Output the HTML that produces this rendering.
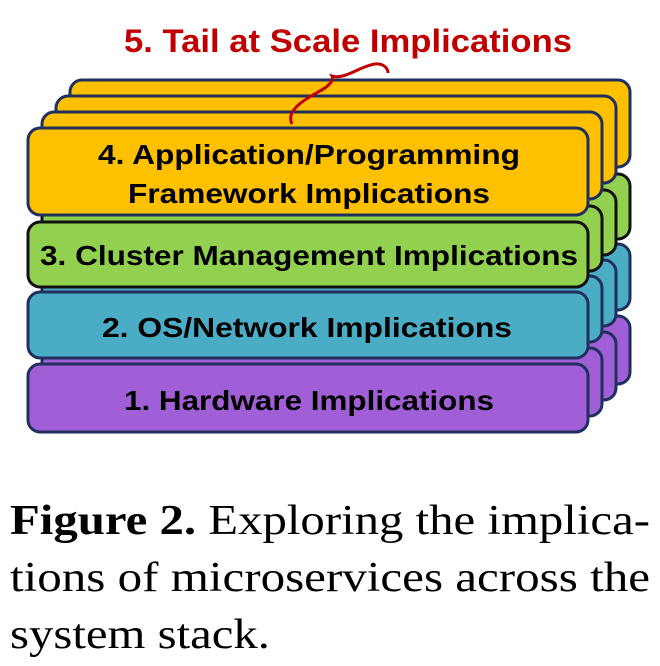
<!DOCTYPE html>
<html><head><meta charset="utf-8"><style>
html,body{margin:0;padding:0;background:#fff;width:660px;height:666px;overflow:hidden}
svg{display:block}
</style></head><body>
<svg width="660" height="666" viewBox="0 0 660 666" xmlns="http://www.w3.org/2000/svg">
<g stroke-width="3">
<!-- layer 3 -->
<g transform="translate(42,-48)">
<rect x="28" y="364" width="560" height="68" rx="12" fill="#A05FD6" stroke="#1F2F5E"/>
<rect x="28" y="292" width="560" height="66" rx="12" fill="#4BACC6" stroke="#1F2F5E"/>
<rect x="28" y="222" width="560" height="65" rx="12" fill="#92D050" stroke="#111"/>
<rect x="28" y="128" width="560" height="87" rx="12" fill="#FFC000" stroke="#1F2F5E"/>
</g>
<g transform="translate(28,-32)">
<rect x="28" y="364" width="560" height="68" rx="12" fill="#A05FD6" stroke="#1F2F5E"/>
<rect x="28" y="292" width="560" height="66" rx="12" fill="#4BACC6" stroke="#1F2F5E"/>
<rect x="28" y="222" width="560" height="65" rx="12" fill="#92D050" stroke="#111"/>
<rect x="28" y="128" width="560" height="87" rx="12" fill="#FFC000" stroke="#1F2F5E"/>
</g>
<g transform="translate(14,-16)">
<rect x="28" y="364" width="560" height="68" rx="12" fill="#A05FD6" stroke="#1F2F5E"/>
<rect x="28" y="292" width="560" height="66" rx="12" fill="#4BACC6" stroke="#1F2F5E"/>
<rect x="28" y="222" width="560" height="65" rx="12" fill="#92D050" stroke="#111"/>
<rect x="28" y="128" width="560" height="87" rx="12" fill="#FFC000" stroke="#1F2F5E"/>
</g>
<rect x="28" y="364" width="560" height="68" rx="12" fill="#A05FD6" stroke="#1F2F5E"/>
<rect x="28" y="292" width="560" height="66" rx="12" fill="#4BACC6" stroke="#1F2F5E"/>
<rect x="28" y="222" width="560" height="65" rx="12" fill="#92D050" stroke="#111"/>
<rect x="28" y="128" width="560" height="87" rx="12" fill="#FFC000" stroke="#1F2F5E"/>
</g>
<path d="M292,124 C286,112 300,102 318,92 C330,86 334,80 332,76 C345,80 360,66 375,64 C383,63 388,68 388,73" fill="none" stroke="#C00000" stroke-width="3"/>
<g font-family="Liberation Sans, sans-serif" font-weight="bold">
<text x="124" y="52" font-size="32" fill="#C00000" textLength="448" lengthAdjust="spacingAndGlyphs">5. Tail at Scale Implications</text>
<text x="98" y="164" font-size="28" fill="#000" textLength="422" lengthAdjust="spacingAndGlyphs">4. Application/Programming</text>
<text x="128" y="203" font-size="28" fill="#000" textLength="362" lengthAdjust="spacingAndGlyphs">Framework Implications</text>
<text x="40" y="265" font-size="28" fill="#000" textLength="538" lengthAdjust="spacingAndGlyphs">3. Cluster Management Implications</text>
<text x="102" y="337" font-size="28" fill="#000" textLength="410" lengthAdjust="spacingAndGlyphs">2. OS/Network Implications</text>
<text x="124" y="410" font-size="28" fill="#000" textLength="370" lengthAdjust="spacingAndGlyphs">1. Hardware Implications</text>
</g>
<g font-family="Liberation Serif, serif" font-size="42" fill="#000">
<text x="10" y="534" textLength="640" lengthAdjust="spacingAndGlyphs"><tspan font-weight="bold">Figure 2.</tspan>  Exploring the implica-</text>
<text x="10" y="591" textLength="640" lengthAdjust="spacingAndGlyphs">tions of microservices across the</text>
<text x="10" y="648" textLength="260" lengthAdjust="spacingAndGlyphs">system stack.</text>
</g>
</svg>
</body></html>
